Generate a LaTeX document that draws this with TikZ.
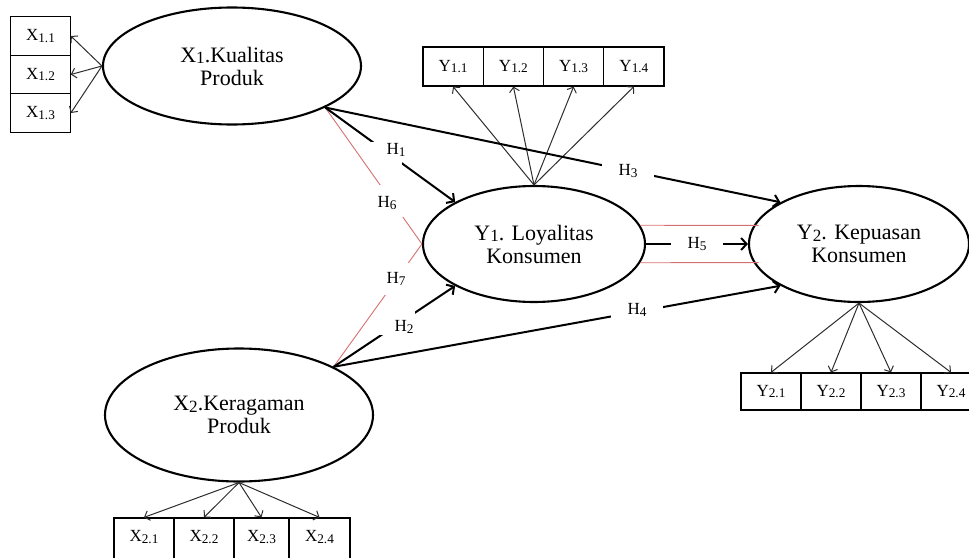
\documentclass[tikz,border=0pt]{standalone}
\usepackage{fontspec}
\setmainfont{Liberation Serif}
\usetikzlibrary{arrows.meta,shapes.geometric}
\newcommand\lowsub[1]{\raisebox{-0.08em}{\scalebox{0.78}{#1}}}
\definecolor{redln}{RGB}{214,112,112}
\definecolor{indc}{RGB}{45,45,45}
\begin{document}
\begin{tikzpicture}[x=1pt,y=-1pt,
  latent/.style={ellipse, draw, line width=2.1pt, inner sep=0pt, align=center, font=\fontsize{22}{23}\selectfont},
  indbox/.style={rectangle, draw, line width=1.2pt, inner sep=0pt, font=\fontsize{17}{18}\selectfont},
  strarrow/.style={line width=2pt, -{Straight Barb[length=5.5pt,width=12pt]}},
  indarrow/.style={indc, line width=1pt, -{Straight Barb[length=4.5pt,width=10pt]}},
  redline/.style={redln, line width=0.9pt},
  gapbox/.style={fill=white, inner sep=0pt},
  hlab/.style={inner sep=0pt, font=\fontsize{17}{18}\selectfont}
]
\useasboundingbox (0,0) rectangle (969,557);
\clip (0,0) rectangle (969,557);

% latent variables
\node[latent, minimum width=258pt, minimum height=117pt] (x1) at (232,66) {X\lowsub{1}.Kualitas\\Produk};
\node[latent, minimum width=268pt, minimum height=133pt] (x2) at (239,415) {X\lowsub{2}.Keragaman\\Produk};
\node[latent, minimum width=222pt, minimum height=116pt] (y1) at (534,244) {Y\lowsub{1}. Loyalitas\\Konsumen};
\node[latent, minimum width=220pt, minimum height=116pt] (y2) at (859,244) {Y\lowsub{2}. Kepuasan\\Konsumen};

% indicator boxes X1
\node[indbox, minimum width=59.5pt, minimum height=38.5pt] (b11) at (40.5,36) {X\lowsub{1.1}};
\node[indbox, minimum width=59.5pt, minimum height=38.5pt] (b12) at (40.5,74.5) {X\lowsub{1.2}};
\node[indbox, minimum width=59.5pt, minimum height=38.5pt] (b13) at (40.5,113) {X\lowsub{1.3}};
% indicator boxes Y1
\node[indbox, minimum width=60.25pt, minimum height=39pt] (c1) at (453.1,66.5) {Y\lowsub{1.1}};
\node[indbox, minimum width=60.25pt, minimum height=39pt] (c2) at (513.4,66.5) {Y\lowsub{1.2}};
\node[indbox, minimum width=60.25pt, minimum height=39pt] (c3) at (573.6,66.5) {Y\lowsub{1.3}};
\node[indbox, minimum width=60.25pt, minimum height=39pt] (c4) at (633.9,66.5) {Y\lowsub{1.4}};
% indicator boxes Y2
\node[indbox, minimum width=60pt, minimum height=37pt] (d1) at (771,391.5) {Y\lowsub{2.1}};
\node[indbox, minimum width=60pt, minimum height=37pt] (d2) at (831,391.5) {Y\lowsub{2.2}};
\node[indbox, minimum width=60pt, minimum height=37pt] (d3) at (891,391.5) {Y\lowsub{2.3}};
\node[indbox, minimum width=60pt, minimum height=37pt] (d4) at (951,391.5) {Y\lowsub{2.4}};
% indicator boxes X2
\node[indbox, minimum width=60pt, minimum height=43pt] (e1) at (144,539.5) {};
\node[indbox, minimum width=60pt, minimum height=43pt] (e2) at (204,539.5) {};
\node[indbox, minimum width=55pt, minimum height=43pt] (e3) at (261.5,539.5) {};
\node[indbox, minimum width=61pt, minimum height=43pt] (e4) at (319.5,539.5) {};
\node[font=\fontsize{17}{18}\selectfont, inner sep=0pt] (e1t) at (144,537) {X\lowsub{2.1}};
\node[font=\fontsize{17}{18}\selectfont, inner sep=0pt] (e2t) at (204,537) {X\lowsub{2.2}};
\node[font=\fontsize{17}{18}\selectfont, inner sep=0pt] (e3t) at (261.5,537) {X\lowsub{2.3}};
\node[font=\fontsize{17}{18}\selectfont, inner sep=0pt] (e4t) at (319.5,537) {X\lowsub{2.4}};

% indicator arrows
\foreach \b in {b11,b12,b13} \draw[indarrow] (x1.west) -- (\b.east);
\foreach \b in {c1,c2,c3,c4} \draw[indarrow] (y1.north) -- (\b.south);
\foreach \b in {d1,d2,d3,d4} \draw[indarrow] (y2.south) -- (\b.north);
\foreach \b in {e1,e2,e3,e4} \draw[indarrow] (x2.south) -- (\b.north);

% red lines
\draw[redline] (x1.-24) -- (y1.west);
\draw[redline] (x2.27) -- (y1.west);
\draw[redline, shorten >=-5pt] (y1.10) -- (y2.170);
\draw[redline, shorten >=-5pt] (y1.-10) -- (y2.190);

% structural paths
\draw[strarrow] (x1.-24) -- (y1.152);
\draw[strarrow] (x1.-24) -- (y2.152);
\draw[strarrow] (x2.27) -- (y1.208);
\draw[strarrow] (x2.27) -- (y2.208);
\draw[strarrow] (y1.east) -- (y2.west);

% gaps behind labels
\node[gapbox, minimum width=32pt, minimum height=24pt] (g1) at (386,154) {};
\node[gapbox, minimum width=52pt, minimum height=20pt] (g3) at (628,172) {};
\node[gapbox, minimum width=26pt, minimum height=32pt] (g6) at (391,201) {};
\node[gapbox, minimum width=26pt, minimum height=32pt] (g7) at (398,279) {};
\node[gapbox, minimum width=36pt, minimum height=24pt] (g2) at (397,323) {};
\node[gapbox, minimum width=52pt, minimum height=20pt] (g4) at (637,312) {};
\node[gapbox, minimum width=52pt, minimum height=20pt] (g5) at (697,244) {};

% labels
\node[hlab] (h1) at (396,150) {H\lowsub{1}};
\node[hlab] (h3) at (628,171) {H\lowsub{3}};
\node[hlab] (h6) at (387,203) {H\lowsub{6}};
\node[hlab] (h7) at (396,279) {H\lowsub{7}};
\node[hlab] (h2) at (404,327) {H\lowsub{2}};
\node[hlab] (h4) at (637,310) {H\lowsub{4}};
\node[hlab] (h5) at (697,244) {H\lowsub{5}};
\end{tikzpicture}
\end{document}
